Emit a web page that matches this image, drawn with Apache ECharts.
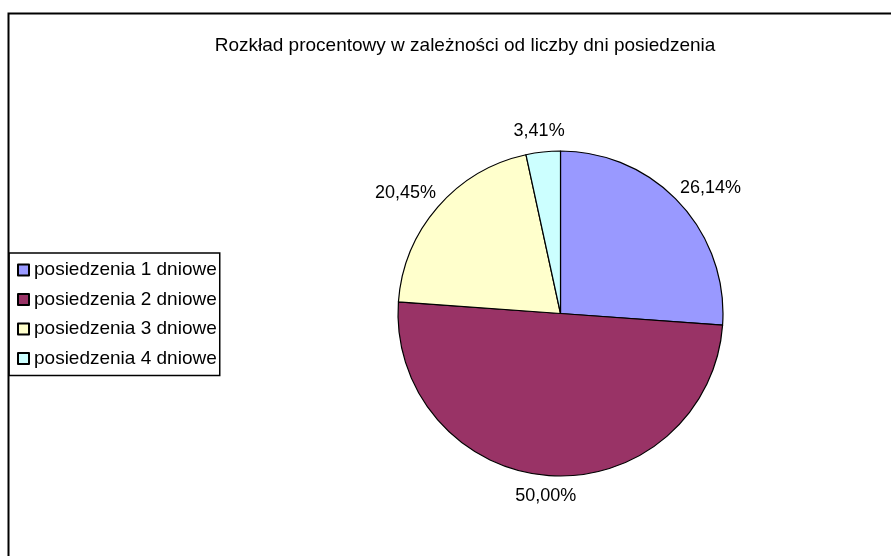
<!DOCTYPE html>
<html><head><meta charset="utf-8">
<script src="https://cdn.jsdelivr.net/npm/echarts@6/dist/echarts.min.js"></script>
<style>html,body{margin:0;padding:0;background:#fff}#c{width:891px;height:556px}</style>
</head><body><div id="c"></div>
<script>
const titleText = 'Rozkład procentowy w zależności od liczby dni posiedzenia';
const categories = ['posiedzenia 1 dniowe', 'posiedzenia 2 dniowe', 'posiedzenia 3 dniowe', 'posiedzenia 4 dniowe'];
const values = [26.14, 50.00, 20.45, 3.41];
const colors = ['#9999FF', '#993366', '#FFFFCC', '#CCFFFF'];

const font = 'Liberation Sans, Arial, sans-serif';
const CX = 560.5, CY = 313.5, R = 162.5, GAP = 12;
const total = values.reduce((a, b) => a + b, 0);

function labelPlace(params) {
  const i = params.dataIndex;
  let before = 0;
  for (let k = 0; k < i; k++) before += values[k];
  const mid = (before + values[i] / 2) / total;           // fraction clockwise from top
  const th = Math.PI / 2 - mid * 2 * Math.PI;              // math angle
  const c = Math.cos(th), s = Math.sin(th);
  const w = params.labelRect.width, h = params.labelRect.height;
  return {
    x: CX + (R + GAP) * c + w / 2 * c,
    y: CY - (R + GAP) * s - h / 2 * s,
    align: 'center', verticalAlign: 'middle'
  };
}

const chart = echarts.init(document.getElementById('c'), null, {renderer: 'canvas'});
chart.setOption({
  animation: false,
  color: colors,
  graphic: [{
    type: 'rect', left: 6, top: 11, shape: {width: 900, height: 560},
    style: {fill: 'none', stroke: '#000', lineWidth: 2}, z: -1
  }],
  title: {
    text: titleText, left: 460, top: 31, textAlign: 'center',
    textStyle: {fontFamily: font, fontSize: 19, fontWeight: 'normal', color: '#000'}
  },
  legend: {
    orient: 'vertical', left: 9, top: 253,
    data: categories, icon: 'rect',
    itemWidth: 11, itemHeight: 11, itemGap: 10.5,
    padding: [7.5, 3, 7.5, 8],
    borderColor: '#000', borderWidth: 1.5,
    textStyle: {fontFamily: font, fontSize: 19, lineHeight: 19, color: '#000'}
  },
  series: [{
    type: 'pie',
    center: [CX, CY], radius: R,
    startAngle: 90, clockwise: true,
    avoidLabelOverlap: false,
    itemStyle: {borderColor: '#000', borderWidth: 1.2},
    label: {
      show: true, position: 'outside', color: '#000',
      fontFamily: font, fontSize: 18,
      formatter: p => p.value.toFixed(2).replace('.', ',') + '%'
    },
    labelLine: {show: false, length: GAP, length2: 0},
    labelLayout: labelPlace,
    emphasis: {disabled: true},
    data: categories.map((n, i) => ({name: n, value: values[i]}))
  }]
});
</script></body></html>
